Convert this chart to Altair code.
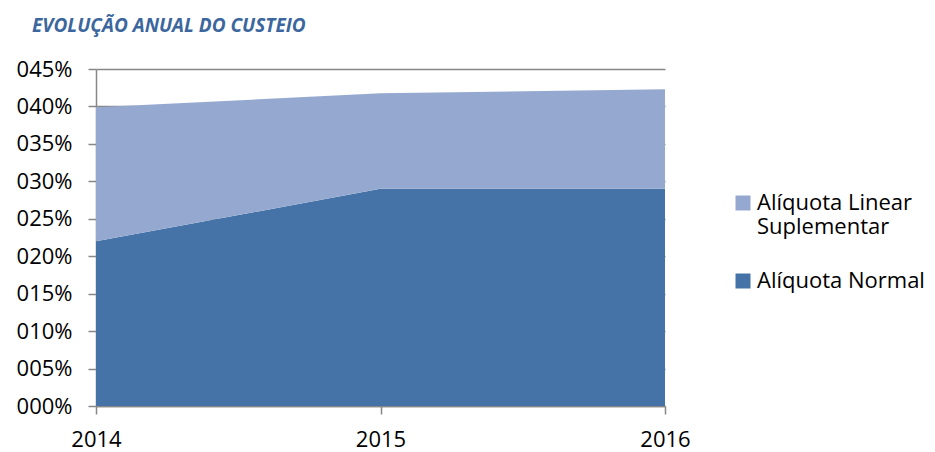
import altair as alt
import pandas as pd

years = [2014, 2015, 2016]
series_names = ["Alíquota Linear Suplementar", "Alíquota Normal"]
normal = [0.220, 0.290, 0.290]
linear = [0.179, 0.1275, 0.133]
colors = ["#95A9D0", "#4573A8"]
y_ticks = [0, 0.05, 0.10, 0.15, 0.20, 0.25, 0.30, 0.35, 0.40, 0.45]

rows = []
for i, yr in enumerate(years):
    rows.append({"year": str(yr), "serie": series_names[1], "value": normal[i], "ord": 0})
    rows.append({"year": str(yr), "serie": series_names[0], "value": linear[i], "ord": 1})
df = pd.DataFrame(rows)

FONT = "Open Sans"
GRAY = "#878787"

chart = alt.Chart(df).mark_area(opacity=1).encode(
    x=alt.X("year:O",
            scale=alt.Scale(type="point", padding=0, domain=[str(y) for y in years]),
            axis=alt.Axis(title=None, grid=False, labelAngle=0,
                          tickSize=8, tickColor=GRAY, domainColor=GRAY,
                          labelPadding=15, labelFontSize=22, labelFont=FONT,
                          labelColor="#000000", labelFlush=False,
                          labelOverlap=False, labelBound=False)),
    y=alt.Y("value:Q", stack="zero",
            scale=alt.Scale(domain=[0, 0.45], nice=False),
            axis=alt.Axis(values=y_ticks, format="04.0%", title=None,
                          grid=True, gridColor=GRAY, gridWidth=1.5,
                          tickSize=8, tickColor=GRAY, domainColor=GRAY,
                          labelPadding=16, labelFontSize=22, labelFont=FONT,
                          labelColor="#000000", labelOverlap=False)),
    color=alt.Color("serie:N",
                    scale=alt.Scale(domain=series_names, range=colors),
                    legend=alt.Legend(title=None, orient="none",
                                      legendX=636, legendY=123,
                                      symbolType="square", symbolSize=225,
                                      symbolStrokeWidth=0, symbolOpacity=1,
                                      labelFont=FONT, labelFontSize=22,
                                      labelColor="#000000", labelLimit=300,
                                      rowPadding=32, labelOffset=3,
                                      labelExpr="datum.label == 'Alíquota Linear Suplementar' ? ['Alíquota Linear', 'Suplementar'] : datum.label")),
    order=alt.Order("ord:Q"),
).properties(
    width=569, height=337,
    title=alt.TitleParams("EVOLUÇÃO ANUAL DO CUSTEIO", anchor="start",
                          frame="group", dx=-64, offset=22,
                          font=FONT, fontSize=19, fontStyle="italic",
                          fontWeight="bold", color="#3B679E"),
    autosize=alt.AutoSizeParams(type="none"),
    padding={"left": 88, "top": 61, "right": 262, "bottom": 44},
).configure_view(stroke=None).configure_axis(domainWidth=1.5, tickWidth=1.5)

chart.save("out.html", embed_options={"renderer": "svg", "actions": False})
